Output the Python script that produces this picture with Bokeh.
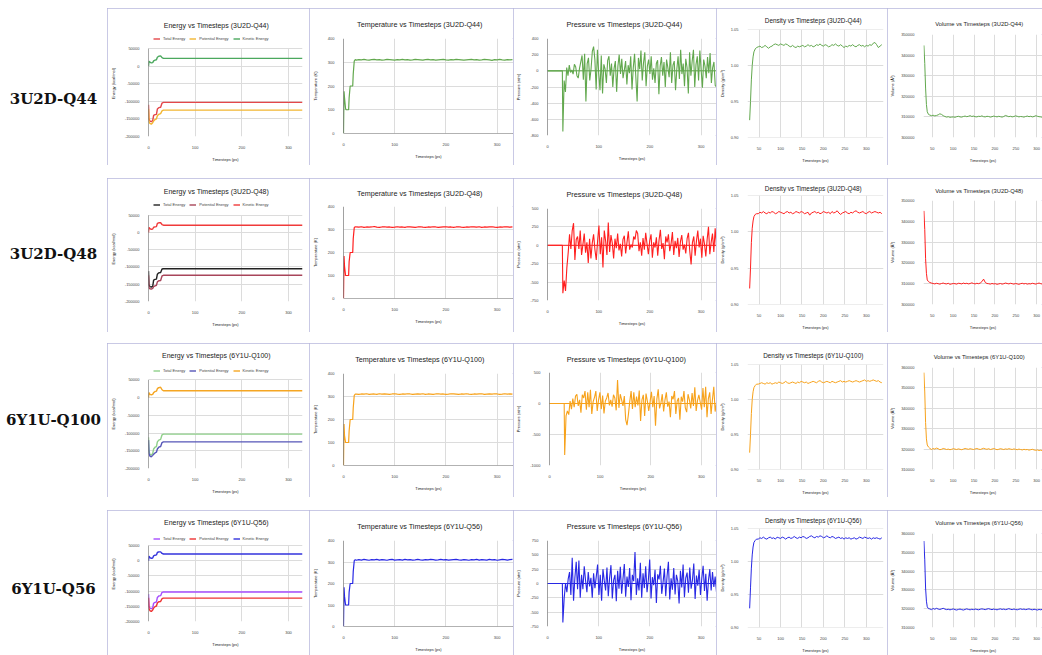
import numpy as np
from bokeh.plotting import figure
from bokeh.models import Range1d, Span, Legend, LegendItem, Div, FixedTicker, NumeralTickFormatter, Spacer
from bokeh.layouts import row, column
from bokeh.embed import file_html
from bokeh.resources import INLINE

# ------------------------------------------------------------------ data
row_names = ["3U2D-Q44", "3U2D-Q48", "6Y1U-Q100", "6Y1U-Q56"]
energy_names = ["Total Energy", "Potential Energy", "Kinetic Energy"]

time_ticks = [0, 100, 200, 300]
time_ticks_dv = [50, 100, 150, 200, 250, 300]
energy_ticks = [-200000, -150000, -100000, -50000, 0, 50000]
temp_ticks = [0, 100, 200, 300, 400]
density_ticks = [0.90, 0.95, 1.00, 1.05]
press_ticks_q44 = [-800, -600, -400, -200, 0, 200, 400]
press_ticks_q48 = [-750, -500, -250, 0, 250, 500]
press_ticks_q100 = [-1000, -500, 0, 500]
press_ticks_q56 = [-750, -500, -250, 0, 250, 500, 750]
vol_ticks_q44 = [300000, 310000, 320000, 330000, 340000, 350000]
vol_ticks_q48 = [300000, 310000, 320000, 330000, 340000, 350000]
vol_ticks_q100 = [310000, 320000, 330000, 340000, 350000, 360000]
vol_ticks_q56 = [310000, 320000, 330000, 340000, 350000, 360000]

# energy (kcal/mol)
energy_t = [0, 1, 3, 6, 9, 11, 14, 17, 19, 22, 26, 29, 32, 35, 330]
q44_total = [-110000, -150000, -156000, -158000, -155000, -140000, -138000, -137000, -122000, -118000, -117000, -105000, -103000, -103000, -103000]
q44_potential = [-122000, -158000, -163000, -165000, -161000, -156000, -152000, -150000, -141000, -137000, -135000, -127000, -125000, -125000, -125000]
q44_kinetic = [0, 14000, 11000, 9000, 10000, 15000, 17000, 18000, 25000, 28000, 29000, 24000, 22000, 22000, 22000]
q48_total = [-112000, -152000, -157000, -158000, -156000, -138000, -136000, -135000, -121000, -117000, -116000, -106000, -105000, -105000, -105000]
q48_potential = [-124000, -160000, -163000, -164000, -162000, -157000, -155000, -153000, -143000, -140000, -139000, -126000, -124000, -124000, -124000]
q48_kinetic = [0, 15000, 11000, 9000, 10000, 15000, 16000, 17000, 26000, 28000, 28000, 23000, 21000, 21000, 21000]
q100_total = [-112000, -150000, -160000, -162000, -158000, -145000, -140000, -138000, -125000, -120000, -118000, -105000, -103000, -103000, -103000]
q100_potential = [-120000, -158000, -165000, -167000, -163000, -160000, -156000, -154000, -145000, -140000, -138000, -127000, -125000, -125000, -125000]
q100_kinetic = [0, 14000, 9000, 8000, 9000, 14000, 17000, 18000, 25000, 28000, 29000, 22000, 19000, 19000, 19000]
q56_total = [-110000, -150000, -156000, -158000, -155000, -140000, -137000, -136000, -121000, -116000, -115000, -104000, -103000, -103000, -103000]
q56_potential = [-122000, -158000, -164000, -167000, -162000, -156000, -151000, -149000, -139000, -135000, -134000, -125000, -123000, -123000, -123000]
q56_kinetic = [0, 15000, 10000, 8000, 9000, 16000, 18000, 19000, 27000, 29000, 29000, 24000, 22000, 22000, 22000]

# temperature (K): start-up ramp, then values every 5 ps from 25 ps
temp_head_t = [0, 1, 2, 4, 5, 10, 11, 13, 18, 19, 21, 23]
q44_temp_head = [0, 178, 150, 105, 100, 100, 150, 200, 200, 250, 305, 311]
q48_temp_head = [0, 185, 140, 100, 100, 100, 160, 200, 200, 260, 308, 312]
q100_temp_head = [0, 180, 130, 100, 100, 100, 150, 200, 200, 250, 305, 310]
q56_temp_head = [0, 182, 140, 100, 100, 100, 160, 200, 200, 255, 306, 311]
q44_temp_tail = [309, 311, 310, 312, 310, 309, 311, 312, 310, 311, 309, 310, 312, 311, 310, 309, 311, 310, 312, 310, 311, 309, 310, 312, 311, 310, 309, 311, 312, 310, 311, 309, 310, 311, 312, 310, 309, 311, 310, 312, 311, 310, 309, 310, 311, 312, 310, 311, 309, 310, 312, 311, 310, 308, 311, 310, 312, 310, 309, 311, 310, 311]
q48_temp_tail = [311, 310, 312, 309, 311, 310, 311, 313, 310, 309, 311, 312, 310, 311, 309, 310, 312, 310, 311, 309, 312, 311, 310, 309, 311, 312, 310, 309, 311, 310, 312, 311, 309, 310, 311, 312, 310, 311, 309, 311, 312, 310, 309, 311, 310, 312, 311, 310, 312, 309, 311, 310, 311, 312, 310, 309, 311, 310, 312, 311, 310, 311]
q100_temp_tail = [310, 309, 311, 310, 312, 309, 310, 311, 309, 312, 310, 311, 310, 309, 311, 312, 310, 309, 311, 310, 312, 311, 309, 310, 311, 310, 312, 309, 311, 310, 309, 311, 312, 310, 311, 309, 310, 312, 311, 310, 309, 311, 310, 312, 310, 309, 311, 310, 311, 312, 309, 310, 311, 310, 312, 311, 309, 310, 312, 310, 311, 310]
q56_temp_tail = [308, 311, 309, 312, 310, 308, 311, 310, 312, 309, 311, 310, 308, 311, 312, 309, 310, 311, 309, 312, 310, 311, 309, 310, 312, 310, 309, 311, 310, 312, 311, 309, 310, 312, 310, 311, 309, 310, 311, 312, 310, 309, 311, 310, 308, 311, 310, 312, 309, 311, 310, 309, 312, 310, 311, 308, 310, 312, 311, 309, 311, 312]

# pressure (atm): 0 until 29 ps, then values every 2.5 ps from 30 ps
press_head_t = [0, 29]
press_head = [0, 0]
q44_press = [-750, -120, -260, 40, -60, 70, -20, 10, -40, 80, 50, -60, -90, 30, 110, 190, -110, 210, -380, 90, 160, -120, 20, 240, 300, 140, -230, 260, -30, -240, 190, -280, 80, 20, -150, 130, 180, -60, 90, -200, 30, 120, -260, 60, 200, -40, 150, -90, 10, 120, -170, 70, -30, 180, -230, 40, 210, -80, -380, 160, 20, 250, -120, 100, 230, -190, 60, 140, -40, 180, -110, 30, -150, 90, 130, -290, 60, 170, -60, 110, -200, 140, 40, -80, 230, -150, 70, 120, -240, 20, 180, -100, 260, -40, 90, -190, 150, 40, -280, 230, -60, 120, 260, -200, 80, 180, -120, 250, 10, -210, 140, 60, -90, 170, -30, 220, -150, 40, 110, -180, -200]
q48_press = [-650, -480, -620, -300, -100, 150, -50, 200, 300, -200, 80, 120, -50, 200, -130, 10, 160, -100, 40, -240, 90, -180, 30, 150, -60, -200, 60, 270, -120, 110, -300, 200, 60, -130, 310, -90, 140, 30, -180, 90, -40, 160, -70, 20, -150, 80, 130, -110, 40, 190, -60, 10, -30, 120, 80, 200, 160, -80, 40, -140, 100, -60, 170, 20, -120, 60, 150, -170, 40, -30, 110, -140, 70, 210, -50, 30, -190, 120, 40, 150, -80, 20, 180, -130, 60, -40, 100, -160, 50, 140, -60, 10, -110, 90, 170, -80, -260, 40, 120, -140, 60, 200, -30, 90, -170, 130, 20, -150, 80, 250, -120, 40, 160, -90, 230, -20]
q100_press = [-830, -200, -120, -180, 40, -90, 80, -60, 120, 150, -40, 60, -150, 140, 90, 200, -100, 180, -60, 220, -170, 30, 100, 200, -120, 60, 180, -90, 130, -160, 40, 90, 170, -30, 60, -50, 140, 90, -110, 380, -70, 150, 60, -40, 120, -260, -350, -180, 30, 200, -90, 180, -60, 110, -30, 210, -280, 60, 140, -200, 160, 40, -120, 30, 190, -60, 120, -360, 70, 230, -80, 10, 150, -130, 60, 180, -50, 30, -220, 120, 70, 200, -170, 40, 90, -260, 110, 30, 200, -70, -140, 150, 60, -80, 170, -40, 260, -120, 50, 140, 20, -100, 250, -60, 270, -220, 80, 180, -170, 60, 270, -130, 20]
q56_press = [-680, -250, 0, -150, 80, 200, -200, 450, -300, 100, 380, -100, 400, -250, 150, -100, 300, 50, -150, 200, -50, 100, -250, 180, -80, 120, 330, -200, 150, -300, 250, 50, -120, 280, -220, 100, 320, -260, 60, 150, -310, 220, -90, 290, -180, 80, 340, -230, 120, -60, 270, -290, 150, 40, 550, -200, 90, -120, 360, -250, 180, -80, 300, -150, 60, 420, -260, 110, -30, 240, -340, 160, 70, 310, -180, 20, 260, -220, 130, 380, -280, 90, -110, 270, -190, 150, 40, -350, 220, -70, 330, -240, 100, 190, -160, 280, -90, 60, 350, -270, 140, -40, 240, -200, 90, 310, -130, 170, -300, 60, 250, -120, 200, -60, 120, -150]

# density (g/cm3): compression ramp, then values every 4 ps from 48 ps
dens_head_t = [28, 30, 32, 34, 36, 38, 41, 44]
q44_dens_head = [0.924, 0.95, 0.98, 1.0, 1.012, 1.019, 1.023, 1.025]
q48_dens_head = [0.922, 0.95, 0.985, 1.005, 1.015, 1.021, 1.024, 1.025]
q100_dens_head = [0.924, 0.95, 0.98, 1.0, 1.011, 1.017, 1.020, 1.022]
q56_dens_head = [0.929, 0.96, 0.99, 1.01, 1.022, 1.029, 1.032, 1.034]
q44_dens = [1.026, 1.027, 1.025, 1.026, 1.028, 1.026, 1.024, 1.026, 1.027, 1.029, 1.030, 1.029, 1.028, 1.030, 1.029, 1.028, 1.030, 1.029, 1.027, 1.026, 1.028, 1.026, 1.025, 1.027, 1.026, 1.027, 1.028, 1.026, 1.027, 1.029, 1.027, 1.028, 1.026, 1.027, 1.029, 1.028, 1.030, 1.028, 1.027, 1.029, 1.028, 1.026, 1.027, 1.029, 1.028, 1.030, 1.028, 1.027, 1.029, 1.027, 1.025, 1.027, 1.026, 1.028, 1.027, 1.029, 1.027, 1.026, 1.028, 1.029, 1.027, 1.028, 1.026, 1.028, 1.027, 1.029, 1.028, 1.031, 1.032, 1.029, 1.025, 1.027, 1.029]
q48_dens = [1.025, 1.027, 1.026, 1.028, 1.026, 1.025, 1.027, 1.026, 1.028, 1.027, 1.025, 1.026, 1.028, 1.027, 1.026, 1.025, 1.027, 1.028, 1.026, 1.027, 1.025, 1.026, 1.028, 1.027, 1.026, 1.028, 1.027, 1.025, 1.026, 1.027, 1.023, 1.026, 1.027, 1.028, 1.026, 1.027, 1.025, 1.026, 1.028, 1.027, 1.026, 1.027, 1.025, 1.028, 1.026, 1.027, 1.029, 1.026, 1.024, 1.026, 1.027, 1.028, 1.026, 1.025, 1.027, 1.026, 1.028, 1.029, 1.027, 1.026, 1.027, 1.028, 1.026, 1.025, 1.027, 1.028, 1.026, 1.027, 1.028, 1.027, 1.026, 1.027, 1.025]
q100_dens = [1.022, 1.023, 1.024, 1.023, 1.022, 1.024, 1.023, 1.024, 1.022, 1.023, 1.024, 1.023, 1.025, 1.024, 1.023, 1.024, 1.026, 1.024, 1.023, 1.024, 1.025, 1.024, 1.023, 1.025, 1.024, 1.026, 1.025, 1.024, 1.025, 1.023, 1.024, 1.025, 1.026, 1.025, 1.024, 1.026, 1.027, 1.025, 1.024, 1.025, 1.026, 1.025, 1.024, 1.026, 1.025, 1.024, 1.025, 1.026, 1.027, 1.025, 1.026, 1.025, 1.026, 1.027, 1.026, 1.025, 1.026, 1.027, 1.026, 1.025, 1.026, 1.027, 1.028, 1.026, 1.027, 1.026, 1.027, 1.028, 1.027, 1.026, 1.027, 1.025, 1.024]
q56_dens = [1.034, 1.036, 1.035, 1.037, 1.035, 1.034, 1.036, 1.037, 1.035, 1.036, 1.034, 1.037, 1.036, 1.035, 1.037, 1.036, 1.034, 1.036, 1.037, 1.035, 1.036, 1.038, 1.036, 1.035, 1.037, 1.036, 1.038, 1.037, 1.035, 1.036, 1.038, 1.039, 1.037, 1.036, 1.038, 1.037, 1.039, 1.038, 1.036, 1.037, 1.039, 1.037, 1.036, 1.038, 1.037, 1.035, 1.036, 1.037, 1.035, 1.036, 1.034, 1.036, 1.035, 1.036, 1.034, 1.035, 1.036, 1.034, 1.035, 1.037, 1.036, 1.035, 1.037, 1.036, 1.035, 1.036, 1.034, 1.036, 1.035, 1.036, 1.035, 1.034, 1.036]

# volume (thousand A^3): compression ramp, then values every 4 ps from 44 ps
vol_head_t = [30, 32, 34, 36, 38, 41]
q44_vol_head = [344.7, 336, 324, 316, 312.5, 311.2]
q48_vol_head = [345, 336, 322, 315, 311.8, 311]
q100_vol_head = [357.5, 348, 333, 325, 322, 321]
q56_vol_head = [356, 346, 331, 324, 321, 320]
q44_vol = [310.9, 310.6, 310.8, 310.5, 310.7, 311.0, 311.5, 311.2, 310.6, 310.2, 309.9, 310.1, 309.8, 309.9, 310.0, 309.8, 310.1, 310.3, 310.0, 309.9, 310.2, 310.4, 310.1, 310.3, 310.6, 310.2, 310.4, 310.1, 310.0, 310.3, 310.2, 310.5, 310.1, 310.0, 310.3, 310.2, 309.9, 310.1, 310.4, 310.2, 310.0, 310.3, 310.1, 309.9, 310.2, 310.7, 310.4, 310.1, 310.3, 310.0, 310.2, 310.5, 310.3, 310.0, 310.2, 310.1, 309.9, 310.2, 310.4, 310.1, 310.3, 310.0, 310.2, 310.6, 310.3, 310.1, 310.0, 309.8, 310.0, 310.2, 309.9, 309.7]
q48_vol = [310.6, 310.3, 310.1, 309.9, 310.2, 310.0, 309.8, 310.1, 310.3, 310.0, 309.9, 310.2, 309.7, 309.9, 310.1, 310.0, 309.8, 310.2, 310.1, 309.9, 310.3, 310.0, 310.2, 309.9, 310.1, 310.4, 310.1, 309.9, 310.2, 310.0, 310.3, 311.0, 312.2, 310.6, 310.1, 310.0, 309.8, 310.1, 309.9, 310.0, 309.7, 309.9, 310.1, 309.8, 310.0, 310.3, 310.1, 309.9, 310.2, 310.0, 309.8, 310.1, 309.9, 309.7, 310.0, 310.2, 309.9, 310.1, 309.8, 310.0, 309.9, 310.2, 310.0, 309.8, 310.1, 310.3, 310.0, 309.8, 310.0, 310.2, 309.9, 309.6]
q100_vol = [320.4, 319.8, 320.3, 320.0, 320.5, 320.2, 319.7, 319.9, 320.3, 320.1, 319.8, 320.0, 319.7, 319.9, 320.2, 320.0, 319.8, 320.1, 319.9, 319.7, 320.0, 320.3, 320.1, 319.9, 320.2, 320.0, 319.8, 320.1, 320.3, 320.0, 319.8, 320.1, 320.4, 320.1, 319.9, 320.2, 319.8, 320.0, 320.3, 320.0, 319.7, 319.9, 320.2, 320.0, 319.8, 320.1, 319.9, 320.2, 320.0, 319.8, 320.1, 319.9, 319.7, 320.0, 319.8, 319.6, 319.9, 319.7, 319.8, 319.5, 319.7, 319.9, 319.6, 319.4, 319.6, 319.3, 319.5, 319.2, 319.4, 319.1, 319.3, 319.0]
q56_vol = [319.9, 319.5, 320.1, 319.7, 320.2, 319.8, 319.6, 319.9, 320.2, 319.8, 319.5, 319.7, 319.4, 319.6, 319.9, 319.5, 319.3, 319.6, 319.8, 319.5, 319.3, 319.6, 319.9, 319.6, 319.4, 319.7, 319.5, 319.8, 319.6, 319.4, 319.7, 319.9, 319.7, 319.5, 319.8, 320.0, 319.7, 319.5, 319.8, 319.6, 319.4, 319.7, 319.9, 319.6, 319.8, 319.5, 319.7, 320.0, 319.7, 319.5, 319.8, 319.6, 319.4, 319.7, 319.9, 319.6, 319.8, 319.5, 319.7, 319.9, 319.6, 319.4, 319.7, 319.5, 319.3, 319.6, 319.4, 319.7, 319.5, 319.3, 319.5, 319.4]

# ------------------------------------------------------------------ style / layout
FONT = "Liberation Sans"
BORDER = "#b7b7dc"
series_colors = ["#62a84e", "#ff1f1f", "#f7a21b", "#2828e4"]
energy_colors = [
    ["#e4474a", "#f2b632", "#4ba85e"],
    ["#222222", "#a8455a", "#f03a3a"],
    ["#8fd08a", "#5656b8", "#f5a623"],
    ["#a64dff", "#ee3333", "#3333dd"],
]
row_heights = [157, 154, 154, 145]
gaps = [8, 13, 11, 13]
label_pad = [27, 0, 2, 15]
# (top, bottom) borders per row for temperature, pressure, density, volume
borders = [
    [(27, 32), (28, 30), (20, 20), (26, 27)],
    [(25, 34), (27, 32), (16, 19), (22, 25)],
    [(27, 32), (26, 32), (20, 22), (24, 27)],
    [(27, 29), (27, 29), (17, 14), (23, 21)],
]
# title centre (from panel top) for energy, temperature, pressure, density, volume
title_c = [
    [17.7, 13.7, 15.3, 8, 15.3],
    [13.3, 10, 12, 7, 11.7],
    [12, 13, 13.7, 8, 13.7],
    [12, 12, 12, 6, 10],
]
# horizontal title centre (from panel left) for each panel type
title_x = [98, 105, 108, 90, 84]
# energy panel: legend centre, top tick, bottom tick (from panel top)
energy_geo = [(29.3, 40, 128), (25, 36.7, 122.7), (26.3, 36.3, 124.7), (27, 35, 111)]

# Arial / Liberation Sans advance widths (1/1000 em), used to centre the titles
ADV = {" ": 278, "(": 333, ")": 333, "-": 333, "D": 722, "E": 667, "P": 667, "Q": 778, "T": 611,
       "U": 722, "V": 667, "Y": 667, "a": 556, "c": 500, "e": 556, "g": 556, "i": 222, "l": 222,
       "m": 833, "n": 556, "o": 556, "p": 556, "r": 333, "s": 500, "t": 278, "u": 556, "v": 500, "y": 500}


def text_width(s, size):
    s = " ".join(s.split())
    return sum(ADV.get(ch, 556) for ch in s) * size / 1000.0


rows_data = [
    dict(total=q44_total, pot=q44_potential, kin=q44_kinetic, th=q44_temp_head, tt=q44_temp_tail,
         pr=q44_press, prt=press_ticks_q44, dh=q44_dens_head, d=q44_dens, vh=q44_vol_head, v=q44_vol, vt=vol_ticks_q44),
    dict(total=q48_total, pot=q48_potential, kin=q48_kinetic, th=q48_temp_head, tt=q48_temp_tail,
         pr=q48_press, prt=press_ticks_q48, dh=q48_dens_head, d=q48_dens, vh=q48_vol_head, v=q48_vol, vt=vol_ticks_q48),
    dict(total=q100_total, pot=q100_potential, kin=q100_kinetic, th=q100_temp_head, tt=q100_temp_tail,
         pr=q100_press, prt=press_ticks_q100, dh=q100_dens_head, d=q100_dens, vh=q100_vol_head, v=q100_vol, vt=vol_ticks_q100),
    dict(total=q56_total, pot=q56_potential, kin=q56_kinetic, th=q56_temp_head, tt=q56_temp_tail,
         pr=q56_press, prt=press_ticks_q56, dh=q56_dens_head, d=q56_dens, vh=q56_vol_head, v=q56_vol, vt=vol_ticks_q56),
]


def make_fig(w, h, title, tsize, tc, tx_c, xr, yr, xt, yt, xlab, ylab, fmt, lr, tb, ystand):
    l, r = lr
    t, b = int(round(tb[0])), int(round(tb[1]))
    p = figure(width=w, height=h, x_range=Range1d(*xr), y_range=Range1d(*yr),
               output_backend="svg", toolbar_location=None, title=title,
               min_border_left=l, min_border_right=r, min_border_top=t, min_border_bottom=b,
               background_fill_color="white", border_fill_color="white", outline_line_color=None,
               styles={"outline": f"1px solid {BORDER}", "outline-offset": "-1px"})
    p.title.text_font = FONT
    p.title.text_font_size = f"{tsize}px"
    p.title.text_font_style = "normal"
    p.title.text_color = "#222222"
    p.title.align = "left"
    p.title.offset = max(0.0, tx_c - l - text_width(title, tsize) / 2)
    s = min(2 * (t - tc) - 6, t - 8)
    p.title.standoff = max(0, int(round(s)))
    xa, ya = p.xaxis[0], p.yaxis[0]
    xa.ticker = FixedTicker(ticks=xt)
    ya.ticker = FixedTicker(ticks=yt)
    p.xgrid.ticker = FixedTicker(ticks=xt)
    p.ygrid.ticker = FixedTicker(ticks=yt)
    xa.formatter = NumeralTickFormatter(format="0")
    ya.formatter = NumeralTickFormatter(format=fmt)
    for ax in (xa, ya):
        ax.axis_line_color = None
        ax.major_tick_line_color = None
        ax.minor_tick_line_color = None
        ax.major_label_text_font = FONT
        ax.major_label_text_font_size = "4px"
        ax.major_label_text_color = "#444444"
        ax.major_label_standoff = 3
        ax.axis_label_text_font = FONT
        ax.axis_label_text_font_size = "4px"
        ax.axis_label_text_font_style = "normal"
        ax.axis_label_text_color = "#222222"
    xa.axis_label = xlab
    ya.axis_label = ylab
    xa.axis_label_standoff = 5
    ya.axis_label_standoff = ystand
    for g in (p.xgrid, p.ygrid):
        g.grid_line_color = "#dcdcdc"
        g.grid_line_width = 1
    return p


children = []
for i, name in enumerate(row_names):
    d = rows_data[i]
    h = row_heights[i]
    col = series_colors[i]
    bd = borders[i]
    tcs = title_c[i]

    label = Div(text=(f'<div style="width:107px;height:{h}px;box-sizing:border-box;padding-top:{label_pad[i]}px;'
                      f'display:flex;align-items:center;justify-content:center;'
                      f'font-family:\'DejaVu Serif\',serif;font-weight:bold;font-size:15px;color:#111">{name}</div>'),
                width=107, height=h, margin=0)

    # Energy: frame starts just under the title; the legend sits inside the frame above the top tick
    leg_c, top_tick, bot_tick = energy_geo[i]
    te = int(round(tcs[0] + 4.5))
    be = int(round(h - bot_tick))
    fb = h - be
    span_v = energy_ticks[-1] - energy_ticks[0]
    y_end = energy_ticks[-1] + (top_tick - te) * span_v / (fb - top_tick)
    pe = make_fig(202, h, f"Energy  vs Timesteps ({name})", 7, tcs[0], title_x[0], (0, 330),
                  (energy_ticks[0], y_end), time_ticks, energy_ticks, "Timesteps (ps)", "Energy (kcal/mol)",
                  "0", (30, 7), (te, be), 6)
    pe.yaxis.bounds = (energy_ticks[0], energy_ticks[-1])
    g = pe.xgrid[0]
    if "cross_bounds" in g.properties():
        g.cross_bounds = (energy_ticks[0], energy_ticks[-1])
    rs = []
    for series, c in zip((d["total"], d["pot"], d["kin"]), energy_colors[i]):
        rs.append(pe.line(energy_t, series, line_color=c, line_width=1.4))
    pe.segment(x0=[time_ticks[0]], y0=[energy_ticks[0]], x1=[time_ticks[0]], y1=[energy_ticks[-1]],
               line_color="#555555", line_width=1)
    leg = Legend(items=[LegendItem(label=n, renderers=[r]) for n, r in zip(energy_names, rs)],
                 orientation="horizontal", location=(5, int(round(fb - leg_c - 3.5))), border_line_color=None,
                 background_fill_alpha=0, label_text_font=FONT, label_text_font_size="4px",
                 label_text_color="#444444", glyph_width=7, glyph_height=5, label_height=5,
                 label_standoff=3, spacing=4, padding=1, margin=0)
    pe.add_layout(leg, "center")

    # Temperature
    pt = make_fig(204, h, f"Temperature vs Timesteps ({name})", 7.2, tcs[1], title_x[1], (0, 332), (0, 400),
                  time_ticks, temp_ticks, "Timesteps (ps)", "Temperature (K)", "0", (28, 0), bd[0], 7)
    tx = list(temp_head_t) + list(np.linspace(25, 330, len(d["tt"])))
    ty = list(d["th"]) + list(d["tt"])
    pt.line(tx, ty, line_color=col, line_width=1.2)
    pt.add_layout(Span(location=0, dimension="height", line_color="#444444", line_width=1))
    pt.add_layout(Span(location=0, dimension="width", line_color="#666666", line_width=1))

    # Pressure
    pp = make_fig(203, h, f"Pressure vs Timesteps ({name})", 7.3, tcs[2], title_x[2], (0, 330),
                  (d["prt"][0], d["prt"][-1]), time_ticks, d["prt"], "Timesteps (ps)", "Pressure (atm)",
                  "0", (31, 0), bd[1], 6)
    pp.add_layout(Span(location=0, dimension="width", line_color=col, line_width=1))
    pp.add_layout(Span(location=0, dimension="height", line_color="#444444", line_width=1))
    px = list(press_head_t) + list(np.linspace(30, 330, len(d["pr"])))
    py = list(press_head) + list(d["pr"])
    pp.line(px, py, line_color=col, line_width=1.1)

    # Density
    pd_ = make_fig(171, h, f"Density vs Timesteps ({name})", 6.4, tcs[3], title_x[3], (23, 340),
                   (0.8999, 1.0501), time_ticks_dv, density_ticks, "Timesteps (ps)", "Density (g/cm\u00b3)",
                   "0.00", (24, 4), bd[2], 3)
    dx = list(dens_head_t) + list(np.linspace(48, 336, len(d["d"])))
    dy = list(d["dh"]) + list(d["d"])
    pd_.line(dx, dy, line_color=col, line_width=1.0)

    # Volume
    pv = make_fig(155, h, f"Volume vs Timesteps ({name})", 5.8, tcs[4], title_x[4], (29, 314),
                  (d["vt"][0], d["vt"][-1]), time_ticks_dv, d["vt"], "Timesteps (ps)", "Volume (\u00c5\u00b3)",
                  "0", (28, 0), bd[3], 3)
    vx = list(vol_head_t) + list(np.linspace(44, 330, len(d["v"])))
    vy = [v * 1000 for v in list(d["vh"]) + list(d["v"])]
    pv.line(vx, vy, line_color=col, line_width=1.0)

    wrapped = [column(p, spacing=0) for p in (pe, pt, pp, pd_, pv)]
    children.append(Spacer(width=1042, height=gaps[i], margin=0))
    children.append(row(label, *wrapped, spacing=0))

page = column(*children, spacing=0)
open("out.html", "w").write(file_html(page, INLINE))
